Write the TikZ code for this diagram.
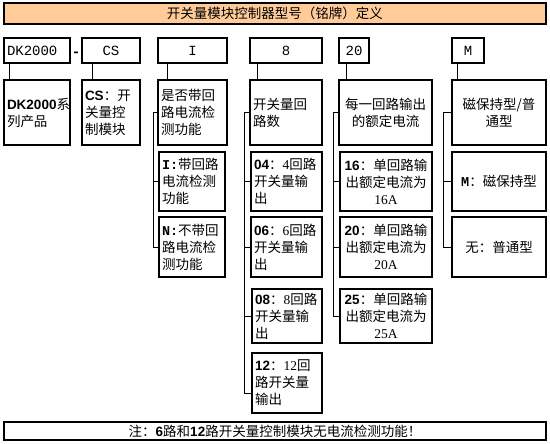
\documentclass[tikz,border=0pt]{standalone}
\usepackage{fontspec}
\setmainfont{Noto Sans CJK SC}
\newfontfamily\monofont{Liberation Mono}
\newfontfamily\latsans{Liberation Sans}
\newfontfamily\latserif{Liberation Serif}
\usetikzlibrary{positioning}
\definecolor{peach}{RGB}{255,204,153}
\newcommand\fz{\fontsize{13.5pt}{17pt}\selectfont}
\newcommand\tm[1]{{\monofont\fontsize{14pt}{17pt}\selectfont #1}}
\newcommand\tb[1]{{\monofont\bfseries #1}}
\newcommand\bn[1]{{\latsans\bfseries #1}}
\newcommand\sn[1]{{\latserif #1}}

\begin{document}
\begin{tikzpicture}[x=1pt, y=-1pt,
	Box/.style={draw, line width=2pt, anchor=north west, inner xsep=3pt, inner ysep=0pt,
		outer sep=0pt, align=left, font=\fz},
	Wd/.code={\pgfmathsetlengthmacro\boxtw{#1-6pt}\tikzset{minimum width=#1, text width=\boxtw}},
	TopBox/.style={Box, minimum height=25pt},
	DescBox/.style={Box, minimum height=65pt},
	SubBox/.style={Box, line width=1.6pt, minimum height=59pt},
	BarBox/.style={Box, line width=2.6pt, align=center, Wd=542pt},
	Link/.style={line width=0.8pt},
	]
	\useasboundingbox (0,0) rectangle (550,444);
	
	\node[BarBox, fill=peach, minimum height=21pt] (title) at (4,3) {开关量模块控制器型号（铭牌）定义};
	
	% model code
	\node[TopBox, Wd=66pt] (t1) at (4,38) {\tm{DK2000}};
	\node[font=\fz, inner sep=0pt, anchor=base] (dash) at (76,56.5) {\tm{\bfseries -}};
	\node[TopBox, Wd=58pt, align=center] (t2) at (82,38) {\tm{CS}};
	\node[TopBox, Wd=69pt, align=center] (t3) at (158,38) {\tm{I}};
	\node[TopBox, Wd=72pt, align=center] (t4) at (250,38) {\tm{8}};
	\node[TopBox, Wd=30pt, align=center] (t5) at (339,38) {\tm{20}};
	\node[TopBox, Wd=32pt, align=center] (t6) at (452,38) {\tm{M}};
	
	% meaning of each part
	\node[DescBox, Wd=66pt] (d1) at (4,80) {\bn{DK2000}系\\列产品};
	\node[DescBox, Wd=58pt] (d2) at (82,80) {\bn{CS}：开\\关量控\\制模块};
	\node[DescBox, Wd=69pt] (d3) at (158,80) {是否带回\\路电流检\\测功能};
	\node[DescBox, Wd=72pt] (d4) at (250,80) {开关量回\\路数};
	\node[DescBox, Wd=93pt, align=center] (d5) at (339,80) {每一回路输出\\的额定电流};
	\node[DescBox, Wd=94pt, align=center] (d6) at (452,80) {磁保持型/普\\通型};
	
	\draw[Link] ([xshift=5pt]t1.south west) -- ([xshift=5pt]d1.north west);
	\draw[Link] ([xshift=10pt]t2.south west) -- ([xshift=10pt]d2.north west);
	\draw[Link] ([xshift=9pt]t3.south west) -- ([xshift=9pt]d3.north west);
	\draw[Link] ([xshift=7pt]t4.south west) -- ([xshift=7pt]d4.north west);
	\draw[Link] ([xshift=7pt]t5.south west) -- ([xshift=7pt]d5.north west);
	\draw[Link] ([xshift=5pt]t6.south west) -- ([xshift=5pt]d6.north west);
	
	% options
	\node[SubBox, Wd=66pt] (s3a) at (159,152) {\tb{I:}带回路\\电流检测\\功能};
	\node[SubBox, Wd=66pt, minimum height=60pt] (s3b) at (159,217) {\tb{N:}不带回\\路电流检\\测功能};
	
	\node[SubBox, Wd=71pt] (s4a) at (251,152) {\bn{04}：\sn{4}回路\\开关量输\\出};
	\node[SubBox, Wd=71pt, minimum height=60pt] (s4b) at (251,217) {\bn{06}：\sn{6}回路\\开关量输\\出};
	\node[SubBox, Wd=70pt, minimum height=54pt] (s4c) at (252,289) {\bn{08}：\sn{8}回路\\开关量输\\出};
	\node[SubBox, Wd=70pt, minimum height=60pt] (s4d) at (252,353) {\bn{12}：\sn{12}回\\路开关量\\输出};
	
	\node[SubBox, Wd=92pt, align=center] (s5a) at (340,152) {\bn{16}：单回路输\\出额定电流为\\\sn{16A}};
	\node[SubBox, Wd=92pt, align=center, minimum height=60pt] (s5b) at (340,217) {\bn{20}：单回路输\\出额定电流为\\\sn{20A}};
	\node[SubBox, Wd=92pt, align=center, minimum height=54pt] (s5c) at (340,289) {\bn{25}：单回路输\\出额定电流为\\\sn{25A}};
	
	\node[SubBox, Wd=94pt, align=center] (s6a) at (452,152) {\tb{M}：磁保持型};
	\node[SubBox, Wd=94pt, align=center, minimum height=60pt] (s6b) at (452,217) {无：普通型};
	
	\draw[Link] (d3.west) -- ++(-5,0) coordinate (b3) |- (s3b.west);
	\draw[Link] (s3a.west) -- (s3a.west -| b3);
	\draw[Link] (d4.west) -- ++(-6,0) coordinate (b4) |- ([yshift=-10pt]s4d.west);
	\foreach \n in {s4a,s4b,s4c}
	\draw[Link] (\n.west) -- (\n.west -| b4);
	\draw[Link] (d5.west) -- ++(-6,0) coordinate (b5) |- (s5c.west);
	\foreach \n in {s5a,s5b}
	\draw[Link] (\n.west) -- (\n.west -| b5);
	\draw[Link] (d6.west) -- ++(-9,0) coordinate (b6) |- (s6b.west);
	\draw[Link] (s6a.west) -- (s6a.west -| b6);
	
	\node[BarBox, minimum height=18pt] (note) at (4,422) {注：\bn{6}路和\bn{12}路开关量控制模块无电流检测功能！};
\end{tikzpicture}
\end{document}
